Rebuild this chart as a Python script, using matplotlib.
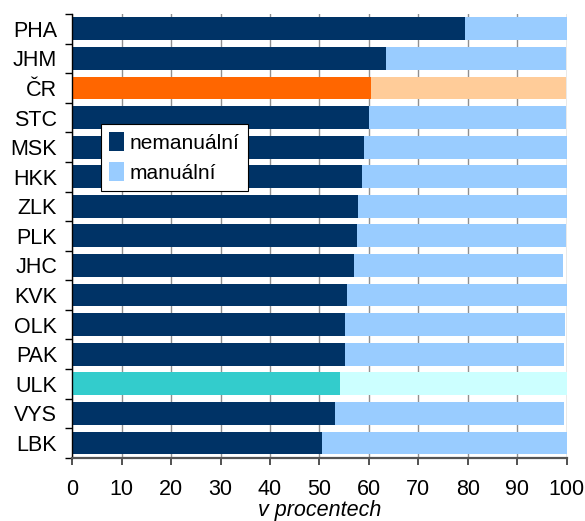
import matplotlib
matplotlib.use("Agg")
import matplotlib.pyplot as plt
import numpy as np
from matplotlib.patches import Patch

plt.rcParams['font.family'] = ['Liberation Sans', 'DejaVu Sans']

categories = ["PHA", "JHM", "ČR", "STC", "MSK", "HKK", "ZLK", "PLK",
              "JHC", "KVK", "OLK", "PAK", "ULK", "VYS", "LBK"]
nemanualni = [79.4, 63.4, 60.5, 60.0, 59.0, 58.5, 57.8, 57.5,
              56.9, 55.5, 55.2, 55.1, 54.1, 53.2, 50.5]
celkem = [100.0, 99.9, 99.9, 99.9, 100.0, 100.0, 100.0, 99.8,
          99.2, 100.0, 99.6, 99.4, 100.0, 99.5, 100.0]
manualni = [c - n for c, n in zip(celkem, nemanualni)]

dark = "#003366"
light = "#99CCFF"
special = {"ČR": ("#FF6600", "#FFCC99"), "ULK": ("#33CCCC", "#CCFFFF")}

c1 = [special.get(c, (dark, light))[0] for c in categories]
c2 = [special.get(c, (dark, light))[1] for c in categories]

fig = plt.figure(figsize=(5.85, 5.21), dpi=100)
ax = fig.add_axes([0.1236, 0.1215, 0.8451, 0.8515])

y = np.arange(len(categories))
ax.barh(y, nemanualni, height=0.77, color=c1, zorder=2)
ax.barh(y, manualni, left=nemanualni, height=0.77, color=c2, zorder=2)

ax.set_xlim(0, 100)
ax.set_ylim(len(categories) - 0.5, -0.5)
ax.set_xticks(np.arange(0, 101, 10))
ax.set_yticks(y)
ax.set_yticklabels(categories)
ax.set_yticks(np.arange(-0.5, len(categories), 1), minor=True)

ax.xaxis.grid(True, color="#909090", linewidth=1, zorder=0)
ax.set_axisbelow(True)

for s in ["top", "right"]:
    ax.spines[s].set_visible(False)
ax.spines["left"].set_color("black")
ax.spines["left"].set_linewidth(1)
ax.spines["bottom"].set_color("#555555")
ax.spines["bottom"].set_linewidth(1.6)

ax.tick_params(axis="y", which="major", length=0, pad=11, labelsize=15.5)
ax.tick_params(axis="y", which="minor", length=5, width=1, color="black")
ax.tick_params(axis="x", which="major", length=5, width=1.2, color="#333333",
               pad=10, labelsize=15.5)

ax.set_xlabel("v procentech", fontsize=15.5, fontstyle="italic", labelpad=0)

handles = [Patch(facecolor=dark, label="nemanuální"),
           Patch(facecolor=light, label="manuální")]
leg = ax.legend(handles=handles, loc="upper left",
                bbox_to_anchor=(0.0575, 0.752), fontsize=15,
                frameon=True, fancybox=False, edgecolor="black",
                framealpha=1, handlelength=0.7, handleheight=1.0,
                handletextpad=0.3, borderpad=0.4, labelspacing=0.45,
                borderaxespad=0)
leg.get_frame().set_linewidth(0.8)

fig.savefig("out.png", dpi=100)
